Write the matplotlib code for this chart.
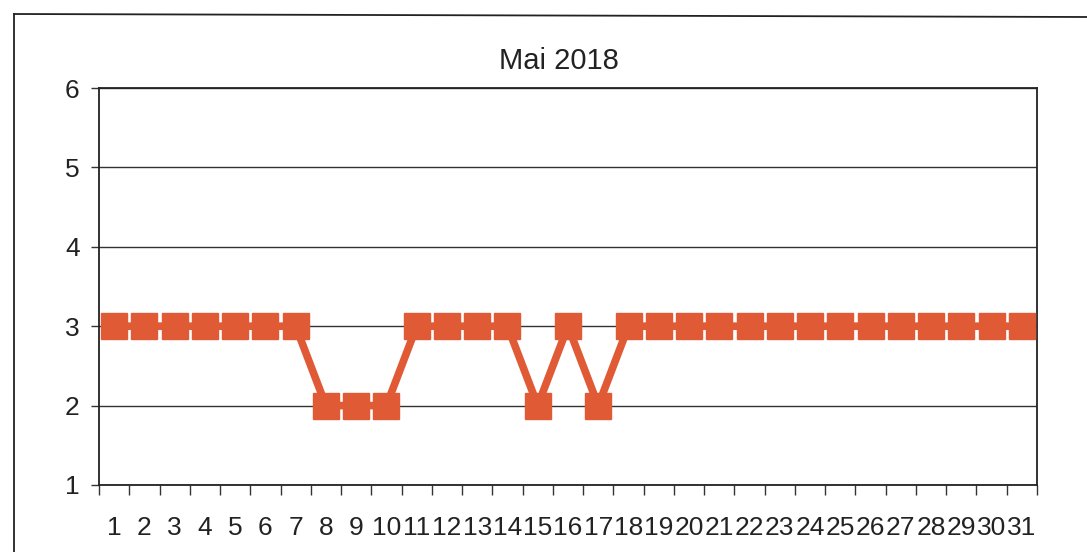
import matplotlib
matplotlib.use("Agg")
import matplotlib.pyplot as plt
from matplotlib.lines import Line2D

title = "Mai 2018"
days = list(range(1, 32))
values = [3, 3, 3, 3, 3, 3, 3, 2, 2, 2, 3, 3, 3, 3, 2, 3, 2, 3, 3, 3,
          3, 3, 3, 3, 3, 3, 3, 3, 3, 3, 3]
y_ticks = [1, 2, 3, 4, 5, 6]

W, H = 1087, 552
fig = plt.figure(figsize=(W / 100, H / 100), dpi=100)
plt.rcParams['font.family'] = ['Liberation Sans', 'DejaVu Sans']

# outer chart frame (cropped in scan)
fig.add_artist(Line2D([14 / W, 14 / W], [1 - 14 / H, 0], transform=fig.transFigure, color='#222222', lw=1.3))
fig.add_artist(Line2D([14 / W, 1.0], [1 - 14 / H, 1 - 17 / H], transform=fig.transFigure, color='#222222', lw=1.3))

ax = fig.add_axes([99 / W, 1 - 485 / H, (1037 - 99) / W, (485 - 88) / H])
color = '#E05A36'
ax.plot(days, values, color=color, lw=5.5, marker='s', markersize=19,
        markerfacecolor=color, markeredgecolor=color, zorder=3)

ax.set_xlim(0.5, 31.5)
ax.set_ylim(1, 6)
ax.set_yticks(y_ticks)
ax.set_yticklabels([str(v) for v in y_ticks], fontsize=19, color='#222222')
ax.set_xticks(days)
ax.set_xticklabels([str(d) for d in days], fontsize=19, color='#222222')
ax.set_xticks([d + 0.5 for d in [0] + days], minor=True)
ax.tick_params(axis='x', which='major', length=0, pad=22)
ax.tick_params(axis='x', which='minor', length=7, width=1, color='#333333', direction='out')
ax.tick_params(axis='y', length=6, width=1, color='#333333', pad=8)
ax.grid(axis='y', color='#333333', lw=1)
for s in ax.spines.values():
    s.set_color('#222222')
    s.set_linewidth(1.3)
ax.set_title(title, fontsize=21, pad=14, color='#222222', x=0.49)

fig.savefig("out.png", dpi=100)
